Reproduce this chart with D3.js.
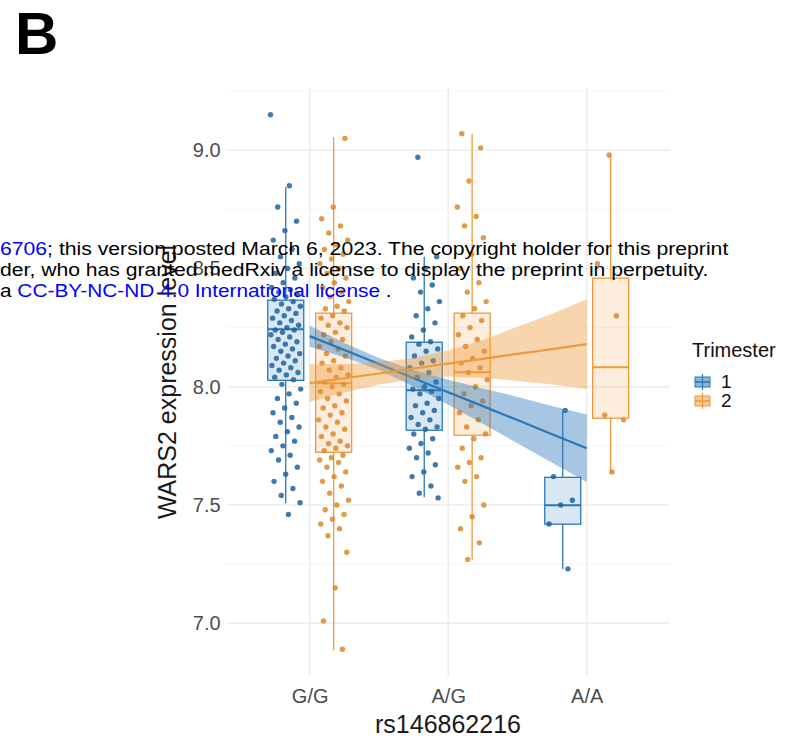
<!DOCTYPE html>
<html>
<head>
<meta charset="utf-8">
<script src="https://cdn.jsdelivr.net/npm/d3@7"></script>
<style>
  html, body { margin: 0; padding: 0; background: #fff; }
  svg { display: block; }
</style>
</head>
<body>
<svg id="chart" width="796" height="740"></svg>
<script>
// ---------------- data ----------------
const categories = ["G/G", "A/G", "A/A"];
const trimesters = ["1", "2"];
const yTicks = [7.0, 7.5, 8.0, 8.5, 9.0];
const yMinorTicks = [6.75, 7.25, 7.75, 8.25, 8.75, 9.25];

// box statistics per genotype (G/G, A/G, A/A)
const t1WhiskerLow  = [7.507, 7.533, 7.228];
const t1Q1          = [8.027, 7.816, 7.419];
const t1Median      = [8.243, 7.985, 7.499];
const t1Q3          = [8.366, 8.188, 7.617];
const t1WhiskerHigh = [8.844, 8.550, 7.900];

const t2WhiskerLow  = [6.886, 7.266, 7.634];
const t2Q1          = [7.723, 7.795, 7.867];
const t2Median      = [8.015, 8.061, 8.082];
const t2Q3          = [8.311, 8.311, 8.459];
const t2WhiskerHigh = [9.055, 9.070, 8.979];

// observations
const t1GG = [9.15, 8.85, 8.76, 8.70, 8.66, 8.62, 8.58, 8.55, 8.52, 8.50, 8.48, 8.46, 8.44, 8.42, 8.41, 8.40, 8.39, 8.38, 8.37,
  8.36, 8.35, 8.34, 8.33, 8.32, 8.31, 8.30, 8.29, 8.28, 8.27, 8.26, 8.25, 8.24, 8.24, 8.23, 8.22, 8.21, 8.20, 8.19, 8.18, 8.17,
  8.16, 8.15, 8.14, 8.13, 8.12, 8.11, 8.10, 8.09, 8.08, 8.07, 8.06, 8.05, 8.04, 8.03,
  8.01, 7.99, 7.97, 7.95, 7.93, 7.91, 7.89, 7.87, 7.85, 7.83, 7.81, 7.79, 7.77, 7.75, 7.73, 7.71, 7.69, 7.66, 7.63, 7.60,
  7.57, 7.54, 7.51, 7.46];
const t1AG = [8.97, 8.55, 8.50, 8.46, 8.43, 8.40, 8.36, 8.33, 8.30, 8.27, 8.24, 8.21, 8.19,
  8.18, 8.16, 8.15, 8.13, 8.11, 8.10, 8.08, 8.06, 8.04, 8.02, 8.00, 7.99, 7.98, 7.97, 7.95, 7.93, 7.92, 7.90, 7.89, 7.87,
  7.86, 7.84, 7.83, 7.82,
  7.80, 7.78, 7.76, 7.74, 7.72, 7.70, 7.67, 7.64, 7.62, 7.58, 7.55, 7.53];
const t1AA = [7.90, 7.62, 7.52, 7.50, 7.42, 7.23];

const t2GG = [9.05, 8.76, 8.71, 8.68, 8.65, 8.62, 8.60, 8.58, 8.56, 8.54, 8.52, 8.50, 8.48, 8.46, 8.44, 8.42, 8.40, 8.38,
  8.36, 8.34, 8.33, 8.32,
  8.30, 8.29, 8.27, 8.26, 8.25, 8.23, 8.22, 8.20, 8.19, 8.17, 8.16, 8.14, 8.13, 8.11, 8.10, 8.08, 8.07, 8.05, 8.04, 8.02,
  8.01, 8.00, 7.98, 7.97, 7.95, 7.94, 7.92, 7.91, 7.89, 7.88, 7.86, 7.85, 7.83, 7.82, 7.80, 7.79, 7.77, 7.76, 7.75, 7.74,
  7.73,
  7.71, 7.70, 7.69, 7.68, 7.66, 7.64, 7.62, 7.60, 7.58, 7.55, 7.52, 7.50, 7.48, 7.46, 7.44, 7.42, 7.40, 7.37, 7.30, 7.15,
  7.01, 6.89];
const t2AG = [9.07, 9.01, 8.87, 8.76, 8.72, 8.68, 8.63, 8.56, 8.50, 8.44, 8.40, 8.36, 8.33,
  8.30, 8.28, 8.25, 8.22, 8.20, 8.17, 8.15, 8.12, 8.10, 8.08, 8.06, 8.03, 8.00, 7.97, 7.94, 7.92, 7.89, 7.86, 7.83, 7.80,
  7.78, 7.74, 7.70, 7.68, 7.66, 7.62, 7.60, 7.50, 7.45, 7.40, 7.34, 7.27];
const t2AA = [8.98, 8.52, 8.30, 7.88, 7.86, 7.64];

// linear fit with confidence band (x = genotype index 1..3)
const fitX    = [1, 1.25, 1.5, 1.75, 2, 2.25, 2.5, 2.75, 3];
const t1Fit   = [8.214, 8.155, 8.096, 8.036, 7.977, 7.918, 7.859, 7.799, 7.740];
const t1Lower = [8.169, 8.125, 8.071, 8.001, 7.924, 7.843, 7.761, 7.679, 7.597];
const t1Upper = [8.259, 8.185, 8.121, 8.071, 8.030, 7.993, 7.957, 7.919, 7.883];
const t2Fit   = [8.015, 8.036, 8.056, 8.077, 8.098, 8.118, 8.139, 8.159, 8.180];
const t2Lower = [7.935, 7.976, 8.008, 8.032, 8.043, 8.038, 8.024, 8.009, 7.990];
const t2Upper = [8.095, 8.096, 8.104, 8.122, 8.153, 8.198, 8.254, 8.309, 8.370];

// ---------------- drawing ----------------
const FONT = "'Liberation Sans', Arial, Helvetica, sans-serif";
const colors = { "1": "#2a78b8", "2": "#ee9a3c" };
const pointColors = { "1": "#1f62a0", "2": "#dc872a" };

const svg = d3.select("#chart");
const panel = { left: 226.6, right: 669.8, top: 88, bottom: 676 };

const x = d3.scalePoint().domain(categories).range([panel.left, panel.right]).padding(0.6);
const step = x.step();
const xNum = d3.scaleLinear().domain([1, 3]).range([x(categories[0]), x(categories[2])]);
const y = d3.scaleLinear().domain([6.777, 9.263]).range([panel.bottom, panel.top]);

// grid
const grid = svg.append("g");
grid.selectAll("line.minor").data(yMinorTicks.filter(v => y(v) >= panel.top && y(v) <= panel.bottom))
  .join("line").attr("x1", panel.left).attr("x2", panel.right)
  .attr("y1", d => y(d)).attr("y2", d => y(d))
  .attr("stroke", "#f3f3f3").attr("stroke-width", 0.8);
grid.selectAll("line.hmajor").data(yTicks).join("line")
  .attr("x1", panel.left).attr("x2", panel.right)
  .attr("y1", d => y(d)).attr("y2", d => y(d))
  .attr("stroke", "#ececec").attr("stroke-width", 1.4);
grid.selectAll("line.vmajor").data(categories).join("line")
  .attr("x1", d => x(d)).attr("x2", d => x(d))
  .attr("y1", panel.top).attr("y2", panel.bottom)
  .attr("stroke", "#ececec").attr("stroke-width", 1.4);

// axes
const yAxis = svg.append("g").attr("transform", `translate(${panel.left - 4},0)`)
  .call(d3.axisLeft(y).tickValues(yTicks).tickFormat(d3.format(".1f")).tickSize(0).tickPadding(2));
yAxis.select(".domain").remove();
yAxis.selectAll("text").attr("font-family", FONT).attr("font-size", 20).attr("fill", "#4d4d4d");

const xAxis = svg.append("g").attr("transform", `translate(0,${panel.bottom + 9})`)
  .call(d3.axisBottom(x).tickSize(0).tickPadding(4));
xAxis.select(".domain").remove();
xAxis.selectAll("text").attr("font-family", FONT).attr("font-size", 20).attr("fill", "#4d4d4d");

// axis titles
svg.append("text").attr("x", 448).attr("y", 733).attr("text-anchor", "middle")
  .attr("font-family", FONT).attr("font-size", 25).attr("fill", "#1a1a1a").text("rs146862216");
svg.append("text").attr("transform", `translate(176,${(panel.top + panel.bottom) / 2}) rotate(-90)`)
  .attr("text-anchor", "middle").attr("font-family", FONT).attr("font-size", 25).attr("fill", "#1a1a1a")
  .text("WARS2 expression level");

// box data assembly
const boxes = [];
categories.forEach((c, i) => {
  boxes.push({ cat: c, tri: "1", lo: t1WhiskerLow[i], q1: t1Q1[i], med: t1Median[i], q3: t1Q3[i], hi: t1WhiskerHigh[i] });
  boxes.push({ cat: c, tri: "2", lo: t2WhiskerLow[i], q1: t2Q1[i], med: t2Median[i], q3: t2Q3[i], hi: t2WhiskerHigh[i] });
});
const dodge = 0.173 * step;
const boxW = 0.26 * step;
const cx = d => x(d.cat) + (d.tri === "1" ? -dodge : dodge);

const gBox = svg.append("g");
const bg = gBox.selectAll("g").data(boxes).join("g");
bg.append("line").attr("x1", cx).attr("x2", cx).attr("y1", d => y(d.hi)).attr("y2", d => y(d.q3))
  .attr("stroke", d => colors[d.tri]).attr("stroke-width", 1.3);
bg.append("line").attr("x1", cx).attr("x2", cx).attr("y1", d => y(d.q1)).attr("y2", d => y(d.lo))
  .attr("stroke", d => colors[d.tri]).attr("stroke-width", 1.3);
bg.append("rect").attr("x", d => cx(d) - boxW / 2).attr("width", boxW)
  .attr("y", d => y(d.q3)).attr("height", d => y(d.q1) - y(d.q3))
  .attr("fill", d => colors[d.tri]).attr("fill-opacity", 0.18)
  .attr("stroke", d => colors[d.tri]).attr("stroke-width", 1.3);
bg.append("line").attr("x1", d => cx(d) - boxW / 2).attr("x2", d => cx(d) + boxW / 2)
  .attr("y1", d => y(d.med)).attr("y2", d => y(d.med))
  .attr("stroke", d => colors[d.tri]).attr("stroke-width", 2);

// points (deterministic jitter)
const pointSets = [
  { cat: "G/G", tri: "1", vals: t1GG }, { cat: "A/G", tri: "1", vals: t1AG }, { cat: "A/A", tri: "1", vals: t1AA },
  { cat: "G/G", tri: "2", vals: t2GG }, { cat: "A/G", tri: "2", vals: t2AG }, { cat: "A/A", tri: "2", vals: t2AA }
];
const pts = [];
pointSets.forEach((s, k) => {
  s.vals.forEach((v, i) => {
    const u = ((i * 0.6180339887 + k * 0.29) % 1) - 0.5;
    pts.push({ cat: s.cat, tri: s.tri, v: v, j: u * 2 * 0.11 * step });
  });
});
svg.append("g").selectAll("circle").data(pts).join("circle")
  .attr("cx", d => cx(d) + d.j).attr("cy", d => y(d.v)).attr("r", 2.7)
  .attr("fill", d => pointColors[d.tri]).attr("fill-opacity", 0.85);

// smooth bands and lines
const smooth = [
  { tri: "1", fit: t1Fit, lo: t1Lower, hi: t1Upper },
  { tri: "2", fit: t2Fit, lo: t2Lower, hi: t2Upper }
];
const area = d3.area().x((d, i) => xNum(fitX[i])).y0(d => y(d[0])).y1(d => y(d[1]));
const line = d3.line().x((d, i) => xNum(fitX[i])).y(d => y(d));
const gs = svg.append("g");
smooth.forEach(s => {
  gs.append("path").datum(fitX.map((_, i) => [s.lo[i], s.hi[i]]))
    .attr("d", area).attr("fill", colors[s.tri]).attr("fill-opacity", 0.42);
  gs.append("path").datum(s.fit).attr("d", line)
    .attr("fill", "none").attr("stroke", colors[s.tri]).attr("stroke-width", 2.2);
});

// legend
const lg = svg.append("g");
lg.append("text").attr("x", 692).attr("y", 357).attr("font-family", FONT).attr("font-size", 20)
  .attr("fill", "#111").text("Trimester");
trimesters.forEach((t, i) => {
  const ky = 374 + i * 19;
  const g = lg.append("g");
  g.append("rect").attr("x", 694).attr("y", ky).attr("width", 17).attr("height", 16).attr("fill", "#fff");
  g.append("line").attr("x1", 702.5).attr("x2", 702.5).attr("y1", ky).attr("y2", ky + 16)
    .attr("stroke", colors[t]).attr("stroke-width", 1.2);
  g.append("rect").attr("x", 695).attr("y", ky + 3).attr("width", 15).attr("height", 10)
    .attr("fill", colors[t]).attr("fill-opacity", 0.55).attr("stroke", colors[t]).attr("stroke-width", 1);
  g.append("line").attr("x1", 695).attr("x2", 710).attr("y1", ky + 8).attr("y2", ky + 8)
    .attr("stroke", colors[t]).attr("stroke-width", 1.6);
  lg.append("text").attr("x", 721).attr("y", ky + 14).attr("font-family", FONT).attr("font-size", 19)
    .attr("fill", "#111").text(t);
});

// panel label
svg.append("text").attr("x", 15).attr("y", 54).attr("font-family", FONT).attr("font-size", 60)
  .attr("font-weight", "bold").attr("fill", "#000").text("B");

// preprint watermark overlay
const wm = svg.append("g").attr("font-family", FONT).attr("font-size", 18.5);
const wmLines = [
  { y: 255, width: 729, parts: [["6706", "#0000ff"], ["; this version posted March 6, 2023. The copyright holder for this preprint", "#000"]] },
  { y: 276, width: 709, parts: [["der, who has granted medRxiv a license to display the preprint in perpetuity.", "#000"]] },
  { y: 297, width: 392, parts: [["a ", "#000"], ["CC-BY-NC-ND 4.0 International license", "#0000ff"], [" .", "#000"]] }
];
wmLines.forEach(L => {
  const t = wm.append("text").attr("x", 0).attr("y", L.y).attr("xml:space", "preserve").style("white-space", "pre");
  L.parts.forEach(p => t.append("tspan").attr("fill", p[1]).text(p[0]));
  const w = t.node().getComputedTextLength();
  if (w > 0) t.attr("transform", `translate(0,${L.y}) scale(${L.width / w},1) translate(0,${-L.y})`);
});
</script>
</body>
</html>
